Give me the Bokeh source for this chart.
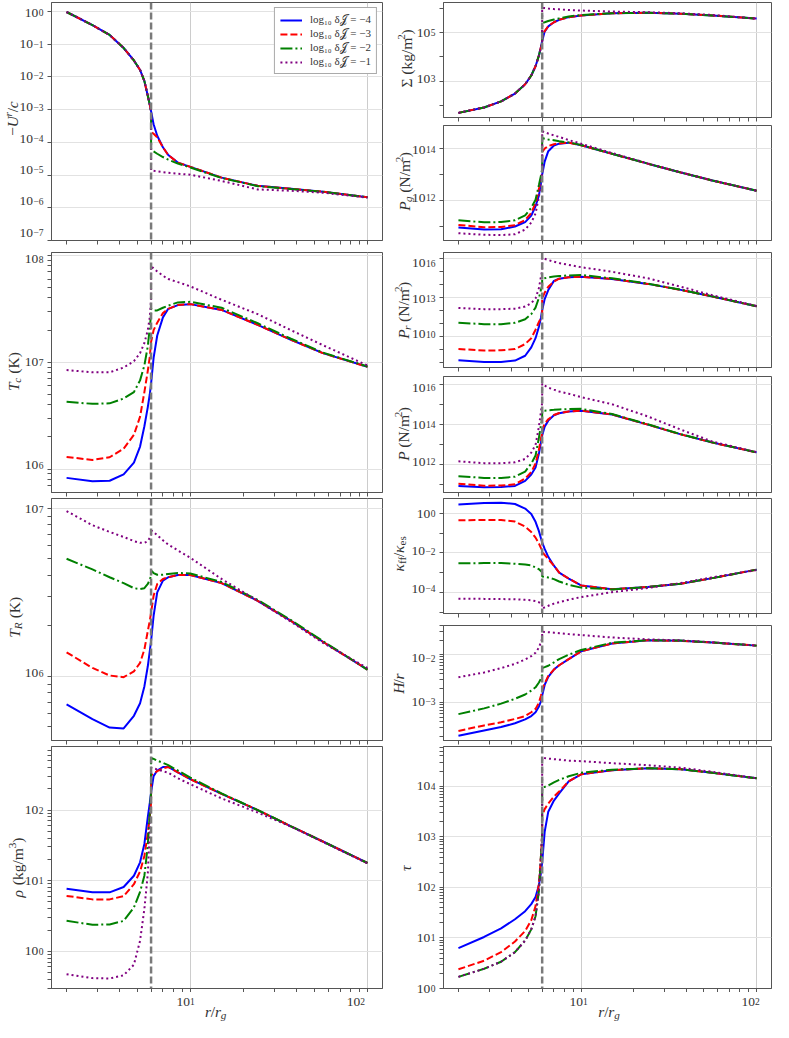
import math
from bokeh.plotting import figure
from bokeh.models import (Range1d, FixedTicker, Label, Span, Legend, LegendItem)
from bokeh.layouts import row, column
from bokeh.embed import file_html
from bokeh.resources import INLINE

# ---------------- data (log10 of each quantity) ----------------
R = [2.0, 2.8, 3.5, 4.2, 4.8, 5.2, 5.5, 5.75, 5.9, 6.0,
     6.0, 6.2, 6.5, 7.0, 7.5, 8.5, 10.0, 15.0, 24.0, 37.0, 56.0, 100.0]

SERIES_LABELS = ["log\u2081\u2080 \u03b4\U0001D4A5 = \u22124", "log\u2081\u2080 \u03b4\U0001D4A5 = \u22123",
                 "log\u2081\u2080 \u03b4\U0001D4A5 = \u22122", "log\u2081\u2080 \u03b4\U0001D4A5 = \u22121"]

U_B = [-0.02, -0.42, -0.72, -1.12, -1.50, -1.79, -2.13, -2.58, -2.85, -3.05,
       -3.05, -3.45, -3.80, -4.15, -4.39, -4.62, -4.75, -5.08, -5.33, -5.42, -5.51, -5.68]
U_R = [-0.02, -0.42, -0.72, -1.12, -1.50, -1.79, -2.13, -2.58, -2.85, -3.05,
       -3.68, -3.74, -3.85, -4.15, -4.39, -4.62, -4.75, -5.08, -5.33, -5.42, -5.51, -5.68]
U_G = [-0.02, -0.42, -0.72, -1.12, -1.50, -1.79, -2.13, -2.58, -2.85, -3.05,
       -4.24, -4.28, -4.35, -4.45, -4.53, -4.65, -4.77, -5.09, -5.34, -5.43, -5.51, -5.68]
U_P = [-0.02, -0.42, -0.72, -1.12, -1.50, -1.79, -2.13, -2.58, -2.85, -3.05,
       -4.86, -4.87, -4.89, -4.91, -4.93, -4.96, -4.99, -5.18, -5.44, -5.48, -5.54, -5.69]

TC_B = [5.917, 5.885, 5.89, 5.95, 6.06, 6.21, 6.40, 6.58, 6.70, 6.80,
        6.80, 7.04, 7.25, 7.42, 7.50, 7.535, 7.544, 7.49, 7.35, 7.21, 7.085, 6.957]
TC_R = [6.113, 6.085, 6.11, 6.19, 6.32, 6.49, 6.72, 6.92, 7.05, 7.19,
        7.19, 7.30, 7.37, 7.46, 7.50, 7.535, 7.544, 7.49, 7.35, 7.21, 7.085, 6.957]
TC_G = [6.63, 6.61, 6.615, 6.66, 6.72, 6.83, 6.97, 7.15, 7.32, 7.45,
        7.50, 7.485, 7.485, 7.51, 7.53, 7.56, 7.566, 7.51, 7.365, 7.22, 7.09, 6.96]
TC_P = [6.927, 6.905, 6.905, 6.95, 7.01, 7.085, 7.18, 7.30, 7.42, 7.59,
        7.90, 7.88, 7.85, 7.81, 7.78, 7.75, 7.71, 7.585, 7.45, 7.30, 7.16, 6.97]

TR_B = [5.833, 5.745, 5.695, 5.69, 5.765, 5.84, 5.94, 6.06, 6.15, 6.21,
        6.21, 6.36, 6.50, 6.57, 6.59, 6.604, 6.604, 6.555, 6.45, 6.33, 6.206, 6.04]
TR_R = [6.143, 6.05, 6.005, 5.995, 6.03, 6.08, 6.16, 6.27, 6.33, 6.38,
        6.38, 6.48, 6.55, 6.58, 6.59, 6.604, 6.604, 6.555, 6.45, 6.33, 6.206, 6.04]
TR_G = [6.70, 6.637, 6.59, 6.555, 6.525, 6.52, 6.525, 6.55, 6.575, 6.60,
        6.63, 6.615, 6.605, 6.605, 6.61, 6.616, 6.612, 6.562, 6.455, 6.335, 6.21, 6.04]
TR_P = [6.984, 6.90, 6.86, 6.83, 6.805, 6.795, 6.795, 6.805, 6.825, 6.843,
        6.87, 6.86, 6.84, 6.81, 6.785, 6.75, 6.706, 6.58, 6.45, 6.325, 6.20, 6.05]

RHO_B = [0.887, 0.835, 0.835, 0.91, 1.07, 1.26, 1.52, 1.90, 2.10, 2.25,
         2.25, 2.48, 2.56, 2.61, 2.61, 2.535, 2.437, 2.23, 2.0, 1.77, 1.555, 1.25]
RHO_R = [0.784, 0.735, 0.735, 0.78, 0.95, 1.13, 1.35, 1.67, 1.90, 2.10,
         2.49, 2.52, 2.55, 2.59, 2.61, 2.535, 2.437, 2.23, 2.0, 1.77, 1.555, 1.25]
RHO_G = [0.432, 0.375, 0.38, 0.43, 0.62, 0.84, 1.07, 1.50, 1.95, 2.25,
         2.74, 2.725, 2.70, 2.67, 2.635, 2.56, 2.46, 2.235, 2.0, 1.77, 1.555, 1.25]
RHO_P = [-0.324, -0.38, -0.385, -0.34, -0.19, 0.15, 0.60, 1.10, 1.72, 2.10,
         2.60, 2.59, 2.575, 2.55, 2.53, 2.45, 2.366, 2.165, 1.965, 1.765, 1.55, 1.245]

SIG_B = [1.71, 1.93, 2.18, 2.50, 2.88, 3.24, 3.62, 4.06, 4.40, 4.65,
         4.65, 5.04, 5.25, 5.42, 5.52, 5.63, 5.70, 5.79, 5.81, 5.77, 5.70, 5.57]
SIG_R = [1.71, 1.93, 2.18, 2.50, 2.88, 3.24, 3.62, 4.06, 4.40, 4.65,
         4.82, 5.06, 5.26, 5.42, 5.52, 5.63, 5.70, 5.79, 5.81, 5.77, 5.70, 5.57]
SIG_G = [1.71, 1.93, 2.18, 2.50, 2.88, 3.24, 3.62, 4.06, 4.40, 4.65,
         5.39, 5.42, 5.47, 5.53, 5.58, 5.66, 5.72, 5.79, 5.81, 5.77, 5.70, 5.57]
SIG_P = [1.71, 1.93, 2.18, 2.50, 2.88, 3.24, 3.62, 4.06, 4.40, 4.65,
         6.01, 6.00, 5.98, 5.96, 5.95, 5.92, 5.90, 5.86, 5.83, 5.79, 5.72, 5.57]

PG_B = [10.96, 10.88, 10.89, 11.0, 11.17, 11.42, 11.78, 12.2, 12.65, 13.0,
        13.0, 13.5, 13.9, 14.12, 14.19, 14.23, 14.13, 13.80, 13.42, 13.08, 12.77, 12.38]
PG_R = [11.06, 10.97, 10.98, 11.05, 11.25, 11.52, 11.9, 12.45, 12.8, 13.05,
        13.87, 14.0, 14.1, 14.17, 14.2, 14.23, 14.13, 13.80, 13.42, 13.08, 12.77, 12.38]
PG_G = [11.24, 11.16, 11.17, 11.24, 11.43, 11.72, 12.03, 12.6, 12.95, 13.2,
        14.41, 14.38, 14.35, 14.32, 14.28, 14.24, 14.14, 13.80, 13.42, 13.08, 12.77, 12.38]
PG_P = [10.74, 10.68, 10.67, 10.70, 10.88, 11.15, 11.5, 12.15, 12.7, 13.1,
        14.67, 14.63, 14.58, 14.51, 14.45, 14.33, 14.19, 13.83, 13.43, 13.08, 12.77, 12.38]

PR_B = [8.15, 8.02, 8.03, 8.13, 8.5, 9.15, 9.85, 10.73, 11.4, 12.0,
        12.0, 12.85, 13.55, 14.25, 14.42, 14.53, 14.57, 14.40, 14.02, 13.56, 13.05, 12.30]
PR_R = [9.02, 8.9, 8.92, 9.02, 9.4, 9.85, 10.5, 11.1, 11.4, 11.6,
        12.88, 13.35, 13.8, 14.2, 14.42, 14.53, 14.57, 14.40, 14.02, 13.56, 13.05, 12.30]
PR_G = [11.03, 10.93, 10.93, 11.03, 11.3, 11.7, 12.2, 12.95, 13.55, 13.9,
        14.39, 14.45, 14.52, 14.58, 14.62, 14.67, 14.70, 14.45, 14.04, 13.57, 13.06, 12.30]
PR_P = [12.17, 12.08, 12.08, 12.12, 12.28, 12.55, 12.9, 13.7, 14.55, 15.0,
        16.05, 15.95, 15.85, 15.72, 15.62, 15.48, 15.3, 14.95, 14.45, 13.8, 13.15, 12.32]

P_B = [10.93, 10.86, 10.87, 10.93, 11.18, 11.5, 11.85, 12.55, 13.1, 13.45,
       13.45, 13.9, 14.2, 14.47, 14.57, 14.66, 14.70, 14.51, 14.0, 13.51, 13.10, 12.61]
P_R = [11.04, 10.94, 10.95, 11.01, 11.3, 11.62, 12.05, 12.75, 13.3, 13.55,
       13.75, 14.05, 14.27, 14.48, 14.58, 14.66, 14.70, 14.51, 14.0, 13.51, 13.10, 12.61]
P_G = [11.42, 11.33, 11.33, 11.39, 11.65, 12.05, 12.45, 13.35, 13.95, 14.3,
       14.70, 14.70, 14.72, 14.74, 14.76, 14.78, 14.79, 14.53, 14.02, 13.52, 13.11, 12.61]
P_P = [12.16, 12.07, 12.07, 12.11, 12.28, 12.6, 12.98, 13.9, 14.62, 15.1,
       16.05, 15.95, 15.85, 15.75, 15.66, 15.55, 15.38, 15.02, 14.41, 13.75, 13.15, 12.62]

K_B = [0.45, 0.52, 0.54, 0.47, 0.24, -0.03, -0.43, -0.9, -1.25, -1.47,
       -1.47, -1.8, -2.2, -2.65, -3.0, -3.3, -3.65, -3.84, -3.73, -3.56, -3.28, -2.85]
K_R = [-0.35, -0.34, -0.34, -0.42, -0.67, -0.95, -1.23, -1.53, -1.75, -1.88,
       -1.95, -2.1, -2.32, -2.65, -3.0, -3.3, -3.65, -3.84, -3.73, -3.56, -3.28, -2.85]
K_G = [-2.53, -2.52, -2.52, -2.55, -2.59, -2.64, -2.74, -2.83, -2.92, -2.98,
       -3.20, -3.22, -3.25, -3.33, -3.45, -3.62, -3.76, -3.85, -3.73, -3.56, -3.28, -2.85]
K_P = [-4.32, -4.33, -4.34, -4.35, -4.38, -4.40, -4.44, -4.5, -4.56, -4.6,
       -4.82, -4.76, -4.68, -4.57, -4.5, -4.37, -4.24, -3.99, -3.78, -3.53, -3.24, -2.87]

H_B = [-3.69, -3.58, -3.51, -3.43, -3.35, -3.28, -3.2, -3.08, -2.98, -2.85,
       -2.85, -2.63, -2.46, -2.31, -2.22, -2.09, -1.93, -1.765, -1.70, -1.71, -1.745, -1.81]
H_R = [-3.59, -3.475, -3.41, -3.34, -3.28, -3.2, -3.13, -3.0, -2.86, -2.75,
       -2.72, -2.6, -2.44, -2.31, -2.22, -2.09, -1.93, -1.765, -1.70, -1.71, -1.745, -1.81]
H_G = [-3.24, -3.12, -3.02, -2.92, -2.83, -2.75, -2.68, -2.58, -2.5, -2.42,
       -2.28, -2.26, -2.23, -2.16, -2.09, -2.0, -1.90, -1.75, -1.695, -1.705, -1.745, -1.81]
H_P = [-2.47, -2.37, -2.28, -2.19, -2.10, -2.03, -1.96, -1.85, -1.74, -1.66,
       -1.52, -1.525, -1.53, -1.54, -1.55, -1.57, -1.59, -1.64, -1.68, -1.70, -1.74, -1.81]

TAU_B = [0.80, 1.02, 1.19, 1.37, 1.53, 1.67, 1.81, 2.05, 2.28, 2.5,
         2.5, 3.1, 3.5, 3.72, 3.86, 4.1, 4.24, 4.32, 4.36, 4.34, 4.27, 4.16]
TAU_R = [0.38, 0.55, 0.72, 0.93, 1.14, 1.35, 1.63, 2.08, 2.6, 3.05,
         3.42, 3.55, 3.66, 3.8, 3.9, 4.1, 4.24, 4.32, 4.36, 4.34, 4.27, 4.16]
TAU_G = [0.23, 0.39, 0.53, 0.72, 0.95, 1.17, 1.43, 1.93, 2.6, 3.05,
         3.98, 3.99, 4.02, 4.08, 4.13, 4.2, 4.27, 4.33, 4.36, 4.34, 4.27, 4.16]
TAU_P = [0.23, 0.39, 0.53, 0.72, 0.95, 1.17, 1.43, 1.93, 2.6, 3.05,
         4.57, 4.56, 4.55, 4.54, 4.53, 4.51, 4.50, 4.46, 4.42, 4.37, 4.29, 4.16]

R_ISCO = 6.0
X_LIM = (1.644, 121.6)
X_MAJOR = [1, 2]          # exponents of the labelled r ticks

# ---------------- styling ----------------
FONT = "Liberation Serif"
TXT = "#333333"
AX = "#555555"
STYLES = [("#0000ff", "solid"), ("#ff0000", "7 3"), ("#008000", "12 3 2 3"), ("#800080", "2 3")]
SUPD = {"-": "\u2212"}

W_REG = {' ': 250, '(': 333, ')': 333, '/': 278, '\u2212': 564, '=': 564, 'K': 722, 'N': 722,
         'k': 500, 'g': 500, 'm': 778, 'f': 333, 'e': 444, 's': 389, '\u03a3': 590,
         '\u03c1': 500, '\u03ba': 500, '\u03c4': 440}
W_IT = {'T': 556, 'U': 722, 'P': 611, 'H': 722, 'r': 389, 'c': 444, 'g': 500, 'R': 611,
        '\u03c1': 500, '\u03ba': 500, '\u03c4': 440}

TICK_FS = 13.5
EXP_FS = 9.5
LAB_FS = 15.5
SPACE = 4.5   # px gap used for a space inside axis titles


def text_w(t, italic):
    tab = W_IT if italic else W_REG
    return sum(tab.get(ch, 500) for ch in t) / 1000.0


def exp_text(e):
    return "".join(SUPD.get(c, c) for c in str(e))


def lab(p, **kw):
    base = dict(text_font=FONT, text_color=TXT, text_baseline="middle")
    base.update(kw)
    p.add_layout(Label(**base))


def minors(lo, hi):
    out = []
    for e in range(int(math.floor(lo)) - 1, int(math.ceil(hi)) + 1):
        for k in range(1, 10):
            v = k * 10.0 ** e
            if lo <= math.log10(v) <= hi:
                out.append(v)
    return out


def layout_pieces(pieces):
    """returns [(text, style, size, start, width)] and total length (px)"""
    out, pos = [], 0.0
    for t, st in pieces:
        small = ("sub" in st) or ("sup" in st)
        sz = LAB_FS * 0.72 if small else LAB_FS
        lead = len(t) - len(t.lstrip(" "))
        pos += lead * SPACE
        core = t.strip(" ")
        wdt = text_w(core, st.startswith("i")) * sz
        out.append((core, st, sz, pos, wdt))
        pos += wdt
    return out, pos


def blank_fig(w, h, **kw):
    p = figure(width=w, height=h, output_backend="svg", toolbar_location=None,
               x_axis_location=None, y_axis_location=None,
               min_border_left=0, min_border_right=0, min_border_top=0, min_border_bottom=0, **kw)
    p.outline_line_color = None
    p.background_fill_color = "white"
    p.border_fill_color = "white"
    p.xgrid.visible = False
    p.ygrid.visible = False
    return p


def ystrip(w, h, bt, bb, ylim, ymaj, pieces, cx):
    """tick labels and rotated axis title left of a panel; its log y scale is the panel's,
    widened so that its frame spans the whole strip height"""
    fh = h - bt - bb
    span = ylim[1] - ylim[0]
    lo = ylim[0] - bb / fh * span
    hi = ylim[1] + bt / fh * span
    p = blank_fig(w, h, x_range=Range1d(0, w), y_axis_type="log",
                  y_range=Range1d(10 ** lo, 10 ** hi))
    xr = w - 3
    for e in ymaj:
        et = exp_text(e)
        we = text_w(et, False) * EXP_FS
        lab(p, x=xr, y=10.0 ** e, text=et, text_align="right", text_baseline="alphabetic",
            text_font_size=f"{EXP_FS}px")
        lab(p, x=xr - we - 0.5, y=10.0 ** e, text="10", text_align="right",
            text_font_size=f"{TICK_FS}px")
    items, total = layout_pieces(pieces)
    start = bb + fh / 2.0 - total / 2.0
    for core, st, sz, pos, wdt in items:
        off = -3.8 if "sub" in st else (4.6 if "sup" in st else 0.0)
        yv = 10 ** (lo + (start + pos) / h * (hi - lo))
        lab(p, x=cx - off, y=yv, text=core, angle=math.pi / 2, text_align="left",
            text_font_size=f"{sz:.1f}px",
            text_font_style=("italic" if st.startswith("i") else "normal"))
    return p


def xstrip(w, h, bl, br):
    """r-axis tick labels and title below the bottom panels (panel's log x scale, widened)"""
    fw = w - bl - br
    l0, l1 = math.log10(X_LIM[0]), math.log10(X_LIM[1])
    s = (l1 - l0) / fw
    L0, L1 = l0 - bl * s, l1 + br * s
    p = blank_fig(w, h, x_axis_type="log", x_range=Range1d(10 ** L0, 10 ** L1),
                  y_range=Range1d(0, h))
    for e in X_MAJOR:
        lab(p, x=10.0 ** e, y=h - 9, text="10", text_align="right", text_font_size=f"{TICK_FS}px")
        lab(p, x=10.0 ** e, y=h - 9, text=exp_text(e), text_align="left", text_baseline="alphabetic",
            text_font_size=f"{EXP_FS}px")
    items, total = layout_pieces([("r", "i"), ("/", "n"), ("r", "i"), ("g", "isub")])
    start = bl + fw / 2.0 - total / 2.0
    for core, st, sz, pos, wdt in items:
        off = -3.5 if "sub" in st else 0.0
        xv = 10 ** (L0 + (start + pos) / w * (L1 - L0))
        lab(p, x=xv, y=11 + off, text=core, text_align="left", text_font_size=f"{sz:.1f}px",
            text_font_style=("italic" if st.startswith("i") else "normal"))
    return p


def panel(w, h, br, bt, bb, ylim, ymaj, ymin, series, legend=False):
    p = figure(width=w, height=h, x_axis_type="log", y_axis_type="log",
               x_range=Range1d(*X_LIM), y_range=Range1d(10 ** ylim[0], 10 ** ylim[1]),
               output_backend="svg", toolbar_location=None,
               min_border_left=5, min_border_right=br, min_border_top=bt, min_border_bottom=bb)
    p.background_fill_color = "white"
    p.border_fill_color = "white"
    p.outline_line_color = AX
    p.outline_line_width = 1

    xmaj = [10.0 ** e for e in X_MAJOR]
    ymajv = [10.0 ** e for e in ymaj]
    # tick marks only (their labels are drawn in the strips)
    p.xaxis.ticker = FixedTicker(ticks=[], minor_ticks=minors(math.log10(X_LIM[0]), math.log10(X_LIM[1])))
    p.yaxis.ticker = FixedTicker(ticks=[], minor_ticks=sorted(set(ymin) | set(ymajv)))
    for ax in (p.xaxis[0], p.yaxis[0]):
        ax.axis_line_color = AX
        ax.minor_tick_line_color = AX
        ax.minor_tick_in = 0
        ax.minor_tick_out = 4
    p.xgrid.ticker = FixedTicker(ticks=xmaj)
    p.ygrid.ticker = FixedTicker(ticks=ymajv)
    p.xgrid.grid_line_color = "#cccccc"
    p.ygrid.grid_line_color = "#e2e2e2"

    rends = []
    for vals, (col, dash) in zip(series, STYLES):
        rends.append(p.line(R, [10.0 ** v for v in vals], line_color=col, line_width=2,
                            line_dash=dash))
    p.add_layout(Span(location=R_ISCO, dimension="height", line_color="#7a7a7a",
                      line_width=2.5, line_dash="7 3"))
    if legend:
        lg = Legend(items=[LegendItem(label=SERIES_LABELS[i], renderers=[rends[i]]) for i in range(4)],
                    location="top_right", label_text_font=FONT, label_text_font_size="11px",
                    label_text_color=TXT, glyph_width=22, glyph_height=12, label_height=12,
                    spacing=1, padding=5, margin=5, label_standoff=8,
                    border_line_color="#555555", border_line_width=1,
                    background_fill_color="white", background_fill_alpha=1.0)
        p.add_layout(lg)
    return p


SLW, SRW = 46, 48          # strip widths
LW, RW = 390 - SLW, 383 - SRW
XH = 30                    # height of the r-axis strip


def cell(sw, pw, br, h, bt, bb, ylim, ymaj, ymin, series, pieces, cx, legend=False, bottom=False):
    pan = panel(pw, h, br, bt, bb, ylim, ymaj, ymin, series, legend=legend)
    if bottom:
        strip = ystrip(sw, h + XH, bt, bb + XH, ylim, ymaj, pieces, cx)
        return row(strip, column(pan, xstrip(pw, XH, 5, br)))
    return row(ystrip(sw, h, bt, bb, ylim, ymaj, pieces, cx), pan)


left = column(
    cell(SLW, LW, 8, 248, 2, 8, (-7.0, 0.27), list(range(-7, 1)), [],
         [U_B, U_R, U_G, U_P], [("\u2212", "n"), ("U", "i"), ("r", "isup"), ("/", "n"), ("c", "i")],
         12, legend=True),
    cell(SLW, LW, 8, 249, 4, 5, (5.78, 8.0275), [6, 7, 8], minors(5.78, 8.0275),
         [TC_B, TC_R, TC_G, TC_P], [("T", "i"), ("c", "isub"), (" (K)", "n")], 13),
    cell(SLW, LW, 8, 248, 1, 5, (5.618, 7.059), [6, 7], minors(5.618, 7.059),
         [TR_B, TR_R, TR_G, TR_P], [("T", "i"), ("R", "isub"), (" (K)", "n")], 14),
    cell(SLW, LW, 8, 247, 1, 4, (-0.527, 2.90), [0, 1, 2], minors(-0.527, 2.90),
         [RHO_B, RHO_R, RHO_G, RHO_P], [("\u03c1", "i"), (" (kg/m", "n"), ("3", "sup"), (")", "n")], 17,
         bottom=True),
)

right = column(
    cell(SRW, RW, 2, 122, 2, 5, (1.52, 6.23), [3, 5], [1e2, 1e4, 1e6],
         [SIG_B, SIG_R, SIG_G, SIG_P], [("\u03a3", "n"), (" (kg/m", "n"), ("2", "sup"), (")", "n")], 16),
    cell(SRW, RW, 2, 124, 3, 6, (10.46, 14.89), [12, 14], [1e11, 1e13],
         [PG_B, PG_R, PG_G, PG_P], [("P", "i"), ("g", "isub"), (" (N/m", "n"), ("2", "sup"), (")", "n")], 14),
    cell(SRW, RW, 2, 126, 6, 5, (7.6, 16.43), [10, 13, 16], [1e8, 1e9, 1e11, 1e12, 1e14, 1e15],
         [PR_B, PR_R, PR_G, PR_P], [("P", "i"), ("r", "isub"), (" (N/m", "n"), ("2", "sup"), (")", "n")], 13),
    cell(SRW, RW, 2, 125, 4, 5, (10.6, 16.41), [12, 14, 16], [1e11, 1e13, 1e15],
         [P_B, P_R, P_G, P_P], [("P", "i"), (" (N/m", "n"), ("2", "sup"), (")", "n")], 13),
    cell(SRW, RW, 2, 121, 1, 5, (-5.07, 0.75), [-4, -2, 0], [1e-5, 1e-3, 1e-1],
         [K_B, K_R, K_G, K_P], [("\u03ba", "i"), ("ff", "sub"), ("/", "n"), ("\u03ba", "i"), ("es", "sub")], 8),
    cell(SRW, RW, 2, 127, 7, 5, (-3.79, -1.39), [-3, -2], minors(-3.79, -1.39),
         [H_B, H_R, H_G, H_P], [("H", "i"), ("/", "n"), ("r", "i")], 8),
    cell(SRW, RW, 2, 247, 1, 4, (0.0, 4.79), [0, 1, 2, 3, 4], minors(0.0, 4.79),
         [TAU_B, TAU_R, TAU_G, TAU_P], [("\u03c4", "i")], 15, bottom=True),
)

layout = row(left, right)
open("out.html", "w").write(file_html(layout, INLINE))
